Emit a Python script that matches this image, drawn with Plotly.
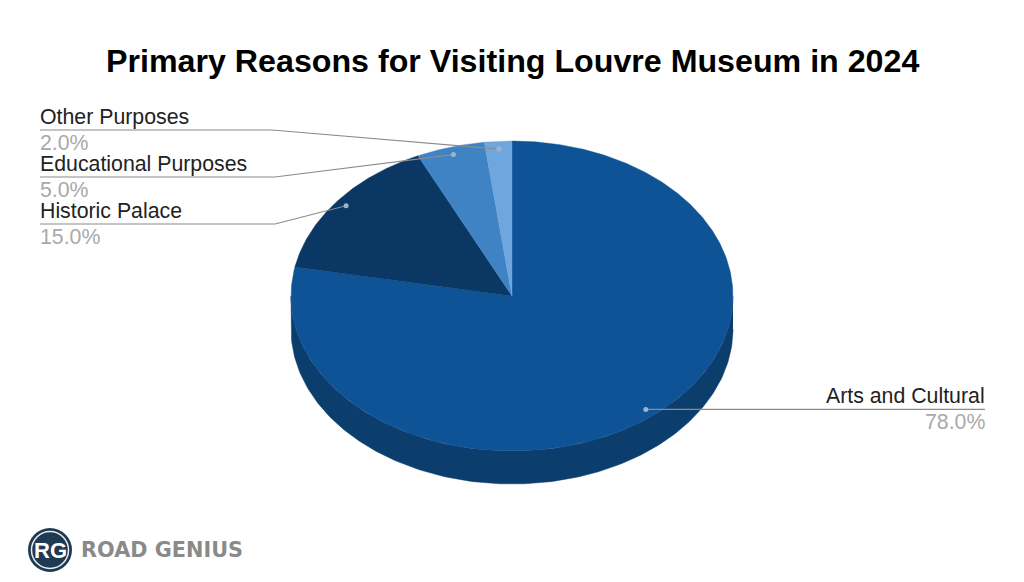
import numpy as np
import plotly.graph_objects as go

# Data
categories = ["Arts and Cultural", "Historic Palace", "Educational Purposes", "Other Purposes"]
values = [78.0, 15.0, 5.0, 2.0]
title_text = "Primary Reasons for Visiting Louvre Museum in 2024"
brand_text = "ROAD GENIUS"
brand_initials = "RG"

# Styles
top_colors = ["#0e5396", "#0a3763", "#3f83c5", "#6fa6dd"]
wall_color = "#0b3d6d"
CX, CY, RX, RY, DEPTH = 512, 296, 221, 155, 33
ANCHOR_F = 0.95
label_side = ["right", "left", "left", "left"]
label_y = [409, 224, 177, 130]      # leader baseline heights
elbow_x = [None, 275, 275, 272]

def pt(deg, f=1.0, dy=0.0):
    a = np.radians(deg)
    return CX + RX * f * np.sin(a), CY - RY * f * np.cos(a) + dy

fig = go.Figure()

# Extruded wall (the part of the rim facing the viewer)
a = np.linspace(90, 270, 181)
xf, yf = pt(a)
xb, yb = pt(a[::-1], dy=DEPTH)
fig.add_trace(go.Scatter(x=np.r_[xf, xb], y=np.r_[yf, yb], fill="toself", mode="lines",
                         line=dict(width=0.5, color=wall_color), fillcolor=wall_color,
                         hoverinfo="skip", showlegend=False))

# Top face wedges, computed from the values
edges = np.r_[0, np.cumsum(values)] / np.sum(values) * 360
for i, name in enumerate(categories):
    a = np.linspace(edges[i], edges[i + 1], max(int(edges[i + 1] - edges[i]) * 2, 8))
    x, y = pt(a)
    fig.add_trace(go.Scatter(x=np.r_[CX, x, CX], y=np.r_[CY, y, CY], fill="toself", mode="lines",
                             line=dict(width=0.4, color=top_colors[i]), fillcolor=top_colors[i],
                             name=name, hoverinfo="name", showlegend=False))

# Leader lines, dots and labels
for i, name in enumerate(categories):
    mid = (edges[i] + edges[i + 1]) / 2
    ax, ay = pt(mid, ANCHOR_F)
    ly = label_y[i]
    if label_side[i] == "right":
        lx = [985, float(ax)]
        ly_ = [float(ay), float(ay)]
        tx, anchor = 986.5, "right"
        ly = float(ay)
    else:
        lx = [40, elbow_x[i], float(ax)]
        ly_ = [ly, ly, float(ay)]
        tx, anchor = 38, "left"
    fig.add_trace(go.Scatter(x=lx, y=ly_, mode="lines", line=dict(color="#8c8c8c", width=1.2),
                             hoverinfo="skip", showlegend=False))
    fig.add_trace(go.Scatter(x=[float(ax)], y=[float(ay)], mode="markers",
                             marker=dict(size=5, color="#9db4cc"), hoverinfo="skip", showlegend=False))
    fig.add_annotation(x=tx, y=ly - 13.5, xref="x", yref="y", text=name, showarrow=False,
                       xanchor=anchor, yanchor="middle",
                       font=dict(family="Liberation Sans", size=21.3, color="#222222"))
    fig.add_annotation(x=tx, y=ly + 12.5, xref="x", yref="y", text=f"{values[i]:.1f}%", showarrow=False,
                       xanchor=anchor, yanchor="middle",
                       font=dict(family="Liberation Sans", size=21.3, color="#a9a9a9"))

# Title
fig.add_annotation(x=512, y=61, xref="x", yref="y", text=f"<b>{title_text}</b>", showarrow=False,
                   xanchor="center", yanchor="middle",
                   font=dict(family="Liberation Sans", size=32.2, color="#000000"))

# Brand mark
fig.add_trace(go.Scatter(x=[50], y=[550], mode="markers", marker=dict(size=44, color="#1f3a52"),
                         hoverinfo="skip", showlegend=False))
fig.add_trace(go.Scatter(x=[50], y=[550], mode="markers",
                         marker=dict(size=37, color="rgba(0,0,0,0)", line=dict(color="#e8edf1", width=1.5)),
                         hoverinfo="skip", showlegend=False))
fig.add_annotation(x=50, y=550, xref="x", yref="y", text=f"<b>{brand_initials}</b>", showarrow=False,
                   font=dict(family="Liberation Sans", size=22, color="#ffffff"))
fig.add_annotation(x=79, y=550, xref="x", yref="y", text=f"<b>{brand_text}</b>", showarrow=False,
                   xanchor="left", yanchor="middle",
                   font=dict(family="DejaVu Sans", size=20.8, color="#8a8a8a"))

fig.update_layout(
    width=1024, height=582, margin=dict(l=0, r=0, t=0, b=0),
    paper_bgcolor="#ffffff", plot_bgcolor="#ffffff", showlegend=False,
    xaxis=dict(range=[0, 1024], visible=False, fixedrange=True),
    yaxis=dict(range=[582, 0], visible=False, fixedrange=True),
)
fig.write_html("out.html", post_script="document.body.style.margin='0';", config=dict(displayModeBar=False))
